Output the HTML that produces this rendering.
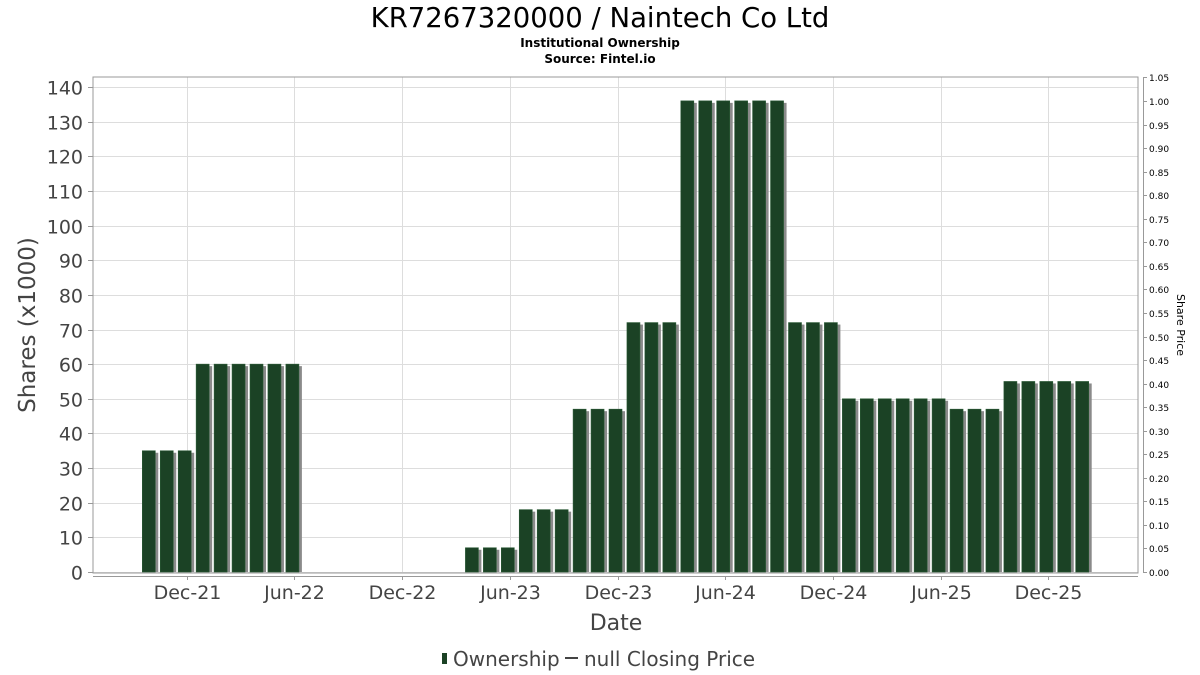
<!DOCTYPE html>
<html><head><meta charset="utf-8">
<style>
html,body{margin:0;padding:0;background:#fff;}
svg{display:block;font-family:"DejaVu Sans","Liberation Sans",sans-serif;}
</style></head>
<body>
<svg id="chart" width="1200" height="675" viewBox="0 0 1200 675" xmlns="http://www.w3.org/2000/svg">
  <text x="600" y="27" text-anchor="middle" font-size="27.5" fill="#000">KR7267320000 / Naintech Co Ltd</text>
  <text x="600" y="47" text-anchor="middle" font-size="12" font-weight="bold" fill="#000">Institutional Ownership</text>
  <text x="600" y="63" text-anchor="middle" font-size="12" font-weight="bold" fill="#000">Source: Fintel.io</text>
  <g id="grid"></g>
  <rect x="93" y="77" width="1045" height="496" fill="none" stroke="#999" stroke-width="1"/>
  <g id="bars"></g>
  <line x1="93" y1="576.5" x2="1138" y2="576.5" stroke="#999"/>
  <line x1="1143.5" y1="77" x2="1143.5" y2="573" stroke="#999"/>
  <g id="yticks"></g>
  <g id="rticks"></g>
  <g id="xticks"></g>
  <text transform="translate(35,325) rotate(-90)" text-anchor="middle" font-size="23" fill="#444">Shares (x1000)</text>
  <text transform="translate(1177,325) rotate(90)" text-anchor="middle" font-size="11" fill="#000">Share Price</text>
  <text x="616" y="630" text-anchor="middle" font-size="22" fill="#444">Date</text>
  <g>
    <rect x="442" y="653" width="5" height="11" fill="#1b4225"/>
    <text x="453" y="666" font-size="20" fill="#444">Ownership</text>
    <line x1="565" y1="658" x2="578" y2="658" stroke="#444" stroke-width="2"/>
    <text x="584" y="666" font-size="20" fill="#444">null Closing Price</text>
  </g>
</svg>
<script>
// month index 0 = Dec-21
const months = [-2,-1,0,1,2,3,4,5,6,16,17,18,19,20,21,22,23,24,25,26,27,28,29,30,31,32,33,34,35,36,37,38,39,40,41,42,43,44,45,46,47,48,49,50];
const shares = [35,35,35,60,60,60,60,60,60,7,7,7,18,18,18,47,47,47,72,72,72,136,136,136,136,136,136,72,72,72,50,50,50,50,50,50,47,47,47,55,55,55,55,55];
const yTicks = [0,10,20,30,40,50,60,70,80,90,100,110,120,130,140];
const priceTicks = [0,0.05,0.10,0.15,0.20,0.25,0.30,0.35,0.40,0.45,0.50,0.55,0.60,0.65,0.70,0.75,0.80,0.85,0.90,0.95,1.00,1.05];
const xTickMonths = [0,6,12,18,24,30,36,42,48];
const xTickLabels = ["Dec-21","Jun-22","Dec-22","Jun-23","Dec-23","Jun-24","Dec-24","Jun-25","Dec-25"];

const NS = "http://www.w3.org/2000/svg";
const x = m => 186.7 + m * 17.95;
const y = v => 572 - v * (485 / 140);
const yr = p => 572 - p * (471 / 1.0);
function mk(tag, attrs, parent){const e=document.createElementNS(NS,tag);for(const k in attrs)e.setAttribute(k,attrs[k]);parent.appendChild(e);return e;}
const grid=document.getElementById('grid'),bars=document.getElementById('bars'),yt=document.getElementById('yticks'),rt=document.getElementById('rticks'),xt=document.getElementById('xticks');

yTicks.forEach(v=>{
  const yy=Math.round(y(v))+0.5;
  const g=mk('line',{x1:93,x2:1138,y1:yy,y2:yy,stroke:'#ddd'},grid);
  
  
  const t=mk('line',{x1:88,x2:93,y1:yy,y2:yy,stroke:'#999'},yt);
  
  
  const l=mk('text',{x:83,y:yy+7,'text-anchor':'end','font-size':19,fill:'#444'},yt);
  l.textContent=v;
  
  
});
priceTicks.forEach(p=>{
  const yy=Math.round(yr(p))+0.5;
  const t=mk('line',{x1:1143,x2:1147,y1:yy,y2:yy,stroke:'#999'},rt);
  
  
  const l=mk('text',{x:1149,y:yy+3.5,'font-size':9,fill:'#000'},rt);
  l.textContent=p.toFixed(2);
  
  
});
xTickMonths.forEach((m,i)=>{
  const xx=Math.round(x(m))+0.5;
  const g=mk('line',{x1:xx,x2:xx,y1:77,y2:573,stroke:'#ddd'},grid);
  
  
  const t=mk('line',{x1:xx,x2:xx,y1:576,y2:580,stroke:'#999'},xt);
  
  
  const l=mk('text',{x:xx,y:599,'text-anchor':'middle','font-size':19,fill:'#444'},xt);
  l.textContent=xTickLabels[i];
  
  
});
months.forEach((m,i)=>{
  const cx=x(m)-2, top=y(shares[i]), w=13;
  const s=mk('rect',{x:cx-w/2+3,y:top+2,width:w,height:572-top-2,fill:'#8a8a8a'},bars);
  
  
  const b=mk('rect',{x:cx-w/2,y:top,width:w,height:572-top,fill:'#1b4225',stroke:'#2a5a35','stroke-width':0.6},bars);
  
  
});
</script>
</body></html>
